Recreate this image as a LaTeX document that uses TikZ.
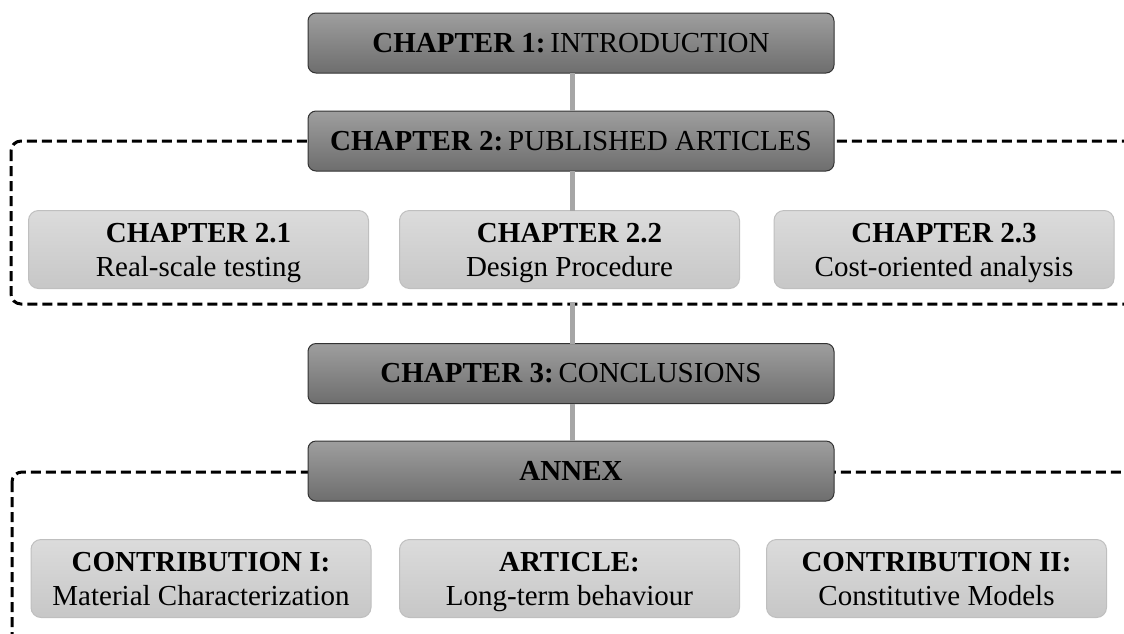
\documentclass[tikz,border=0pt]{standalone}
\usepackage{fontspec}
\setmainfont{Liberation Serif}
\newcommand\bstrut{\rule[-7pt]{0pt}{34pt}}
\begin{document}
\begin{tikzpicture}[x=1pt,y=-1pt,
  darkbox/.style={draw=black!80, line width=1pt, rounded corners=8pt, top color=black!38, bottom color=black!57,
    minimum width=526pt, minimum height=60pt, inner sep=0pt, font=\fontsize{29}{34}\selectfont, align=center},
  lightbox/.style={draw=black!25, line width=1pt, rounded corners=10pt, top color=black!14, bottom color=black!22,
    minimum width=340pt, minimum height=78pt, inner sep=0pt, font=\fontsize{29}{34}\selectfont, align=center},
  conn/.style={draw=black!35, line width=5pt},
  group/.style={draw=black, line width=3pt, dash pattern=on 10pt off 5pt, rounded corners=10pt}]
\useasboundingbox (0,0) rectangle (1124,633);
\draw[group] (11,141) rectangle (1140,304);
\draw[group] (12,472) rectangle (1140,660);
\coordinate (g1b) at (572,304);
\node[darkbox] (ch1) at (571,43) {\textbf{CHAPTER 1:}\,INTRODUCTION};
\node[darkbox] (ch2) at (571,141) {\textbf{CHAPTER 2:}\,PUBLISHED ARTICLES};
\node[lightbox] (ch21) at (198.5,249.5) {\textbf{CHAPTER 2.1}\bstrut\\Real-scale testing\bstrut};
\node[lightbox] (ch22) at (569.5,249.5) {\textbf{CHAPTER 2.2}\bstrut\\Design Procedure\bstrut};
\node[lightbox] (ch23) at (944,249.5) {\textbf{CHAPTER 2.3}\bstrut\\Cost-oriented analysis\bstrut};
\node[darkbox] (ch3) at (571,373.5) {\textbf{CHAPTER 3:}\,CONCLUSIONS};
\node[darkbox] (annex) at (571,471) {\textbf{ANNEX}};
\node[lightbox] (c1) at (201,578.5) {\textbf{CONTRIBUTION I:}\bstrut\\Material Characterization\bstrut};
\node[lightbox] (art) at (569.5,578.5) {\textbf{ARTICLE:}\bstrut\\Long-term behaviour\bstrut};
\node[lightbox] (c2) at (936.5,578.5) {\textbf{CONTRIBUTION II:}\bstrut\\Constitutive Models\bstrut};
\draw[conn] ([xshift=1pt,yshift=0.5pt]ch1.south) -- ([xshift=1pt,yshift=-0.5pt]ch2.north);
\draw[conn] ([xshift=1pt,yshift=0.5pt]ch2.south) -- ([xshift=1pt,yshift=-0.5pt]ch2.south |- ch22.north);
\draw[conn] ([yshift=1.5pt]g1b) -- ([xshift=1pt,yshift=-0.5pt]ch3.north);
\draw[conn] ([xshift=1pt,yshift=0.5pt]ch3.south) -- ([xshift=1pt,yshift=-0.5pt]annex.north);
\end{tikzpicture}
\end{document}
